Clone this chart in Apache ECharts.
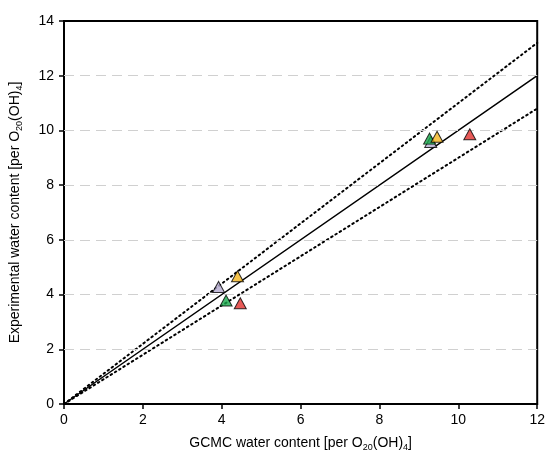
<!DOCTYPE html>
<html><head><meta charset="utf-8">
<script src="https://cdn.jsdelivr.net/npm/echarts@6/dist/echarts.min.js"></script>
<style>html,body{margin:0;padding:0;background:#fff}#c{width:548px;height:457px}</style>
</head><body><div id="c"></div>
<script>
const xTicks = [0, 2, 4, 6, 8, 10, 12];
const yTicks = [0, 2, 4, 6, 8, 10, 12, 14];
const gridLinesY = [2, 4, 6, 8, 10, 12];
const purpleX = [3.92, 9.30], purpleY = [4.28, 9.58];
const greenX = [4.11, 9.27], greenY = [3.78, 9.70];
const yellowX = [4.40, 9.46], yellowY = [4.67, 9.77];
const redX = [4.47, 10.29], redY = [3.68, 9.86];
const parityX = [0, 12], parityY = [0, 12];
const upperY = [0, 13.2], lowerY = [0, 10.8];

const zip = (a, b) => a.map((v, i) => [v, b[i]]);
const font = 'Liberation Sans, Arial, sans-serif';
function pts(name, xs, ys, color) {
  return { name, type: 'scatter', data: zip(xs, ys), symbol: 'triangle', symbolSize: [12, 11],
    itemStyle: { color, borderColor: '#000', borderWidth: 1 }, z: 5 };
}
function line(ys, type, w) {
  return { type: 'line', data: zip(parityX, ys), symbol: 'none', silent: true,
    lineStyle: { color: '#000', width: w, type, cap: 'round' }, z: 3 };
}
const sub = { fontSize: 9, fontFamily: font, color: '#000', padding: [9, 0, 0, 0] };
const main = { fontSize: 14, fontFamily: font, color: '#000' };
const chart = echarts.init(document.getElementById('c'));
chart.setOption({
  animation: false,
  grid: { left: 64, right: 7, top: 21, bottom: 52, show: true, borderColor: '#000', borderWidth: 2 },
  xAxis: {
    type: 'value', min: 0, max: 12, interval: 2,
    name: '{m|GCMC water content [per O}{s|20}{m|(OH)}{s|4}{m|]}', nameLocation: 'middle', nameGap: 30,
    nameTextStyle: { rich: { m: main, s: sub } },
    axisLine: { show: true, lineStyle: { color: '#000', width: 2 } },
    axisTick: { show: true, inside: false, length: 5, lineStyle: { color: '#000', width: 1.5 } },
    axisLabel: { color: '#000', fontSize: 14, fontFamily: font, margin: 9, formatter: v => xTicks.includes(v) ? String(v) : '' },
    splitLine: { show: false }
  },
  yAxis: {
    type: 'value', min: 0, max: 14, interval: 2,
    name: '{m|Experimental water content [per O}{s|20}{m|(OH)}{s|4}{m|]}', nameLocation: 'middle', nameGap: 40, nameRotate: 90,
    nameTextStyle: { rich: { m: main, s: sub } },
    axisLine: { show: true, lineStyle: { color: '#000', width: 2 } },
    axisTick: { show: true, inside: false, length: 5, lineStyle: { color: '#000', width: 1.5 } },
    axisLabel: { color: '#000', fontSize: 14, fontFamily: font, margin: 10, formatter: v => yTicks.includes(v) ? String(v) : '' },
    splitLine: { show: false }
  },
  series: [
    { type: 'line', data: [], silent: true, z: 1,
      markLine: { silent: true, symbol: 'none', label: { show: false },
        lineStyle: { color: '#d0d0d0', width: 1, type: [10, 6] },
        data: gridLinesY.map(v => ({ yAxis: v })) } },
    line(parityY, 'solid', 1.5),
    line(upperY, [1.5, 3.5], 2),
    line(lowerY, [1.5, 3.5], 2),
    pts('purple', purpleX, purpleY, '#b4aad0'),
    pts('green', greenX, greenY, '#17a84a'),
    pts('yellow', yellowX, yellowY, '#f2b41e'),
    pts('red', redX, redY, '#e2312e')
  ]
});
</script></body></html>
